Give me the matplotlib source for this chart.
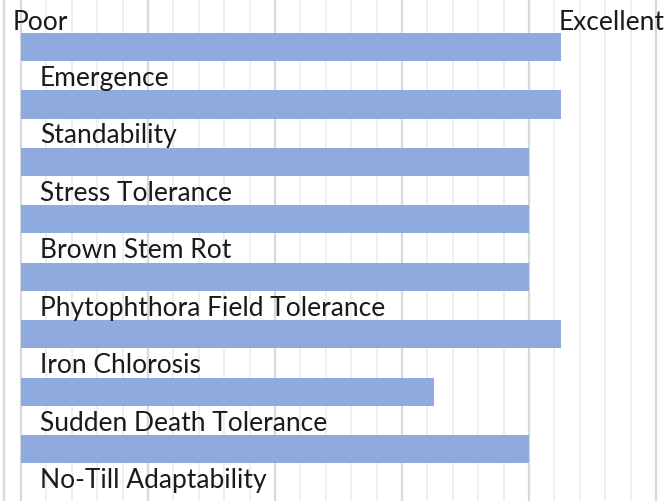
import numpy as np
import matplotlib.pyplot as plt

traits = [
    "Emergence",
    "Standability",
    "Stress Tolerance",
    "Brown Stem Rot",
    "Phytophthora Field Tolerance",
    "Iron Chlorosis",
    "Sudden Death Tolerance",
    "No-Till Adaptability",
]
scores = [8.5, 8.5, 8.0, 8.0, 8.0, 8.5, 6.5, 8.0]
scale_min, scale_max = 0, 10

bar_color = "#8faadc"
font = ["Lato", "DejaVu Sans"]
fsize = 19

fig = plt.figure(figsize=(6.65, 5.02), dpi=100)
ax = fig.add_axes([0, 0, 1, 1])

y = np.arange(len(traits))
ax.barh(y, scores, height=0.49, color=bar_color, zorder=2)

# gridlines: major every 2, minor every 0.4
for xv in np.arange(scale_min, scale_max + 0.01, 0.4):
    major = abs(xv / 2 - round(xv / 2)) < 1e-6
    ax.axvline(xv, color="#d9d9d9" if major else "#eeeeee",
               lw=1.6 if major else 1.3, zorder=1)
ax.axvline(-0.27, color="#d9d9d9", lw=1.6, zorder=1)

for i, name in enumerate(traits):
    ax.text(0.3, i + 0.53, name, fontsize=fsize, family=font,
            va="center", ha="left", color="#1a1a1a", zorder=3)

ax.text(-0.14, -0.45, "Poor", fontsize=fsize, family=font,
        va="center", ha="left", color="#1a1a1a")
ax.text(10.14, -0.45, "Excellent", fontsize=fsize, family=font,
        va="center", ha="right", color="#1a1a1a")

ax.set_xlim(-0.331, 10.142)
ax.set_ylim(7.905, -0.836)
ax.axis("off")

fig.savefig("out.png", dpi=100)
